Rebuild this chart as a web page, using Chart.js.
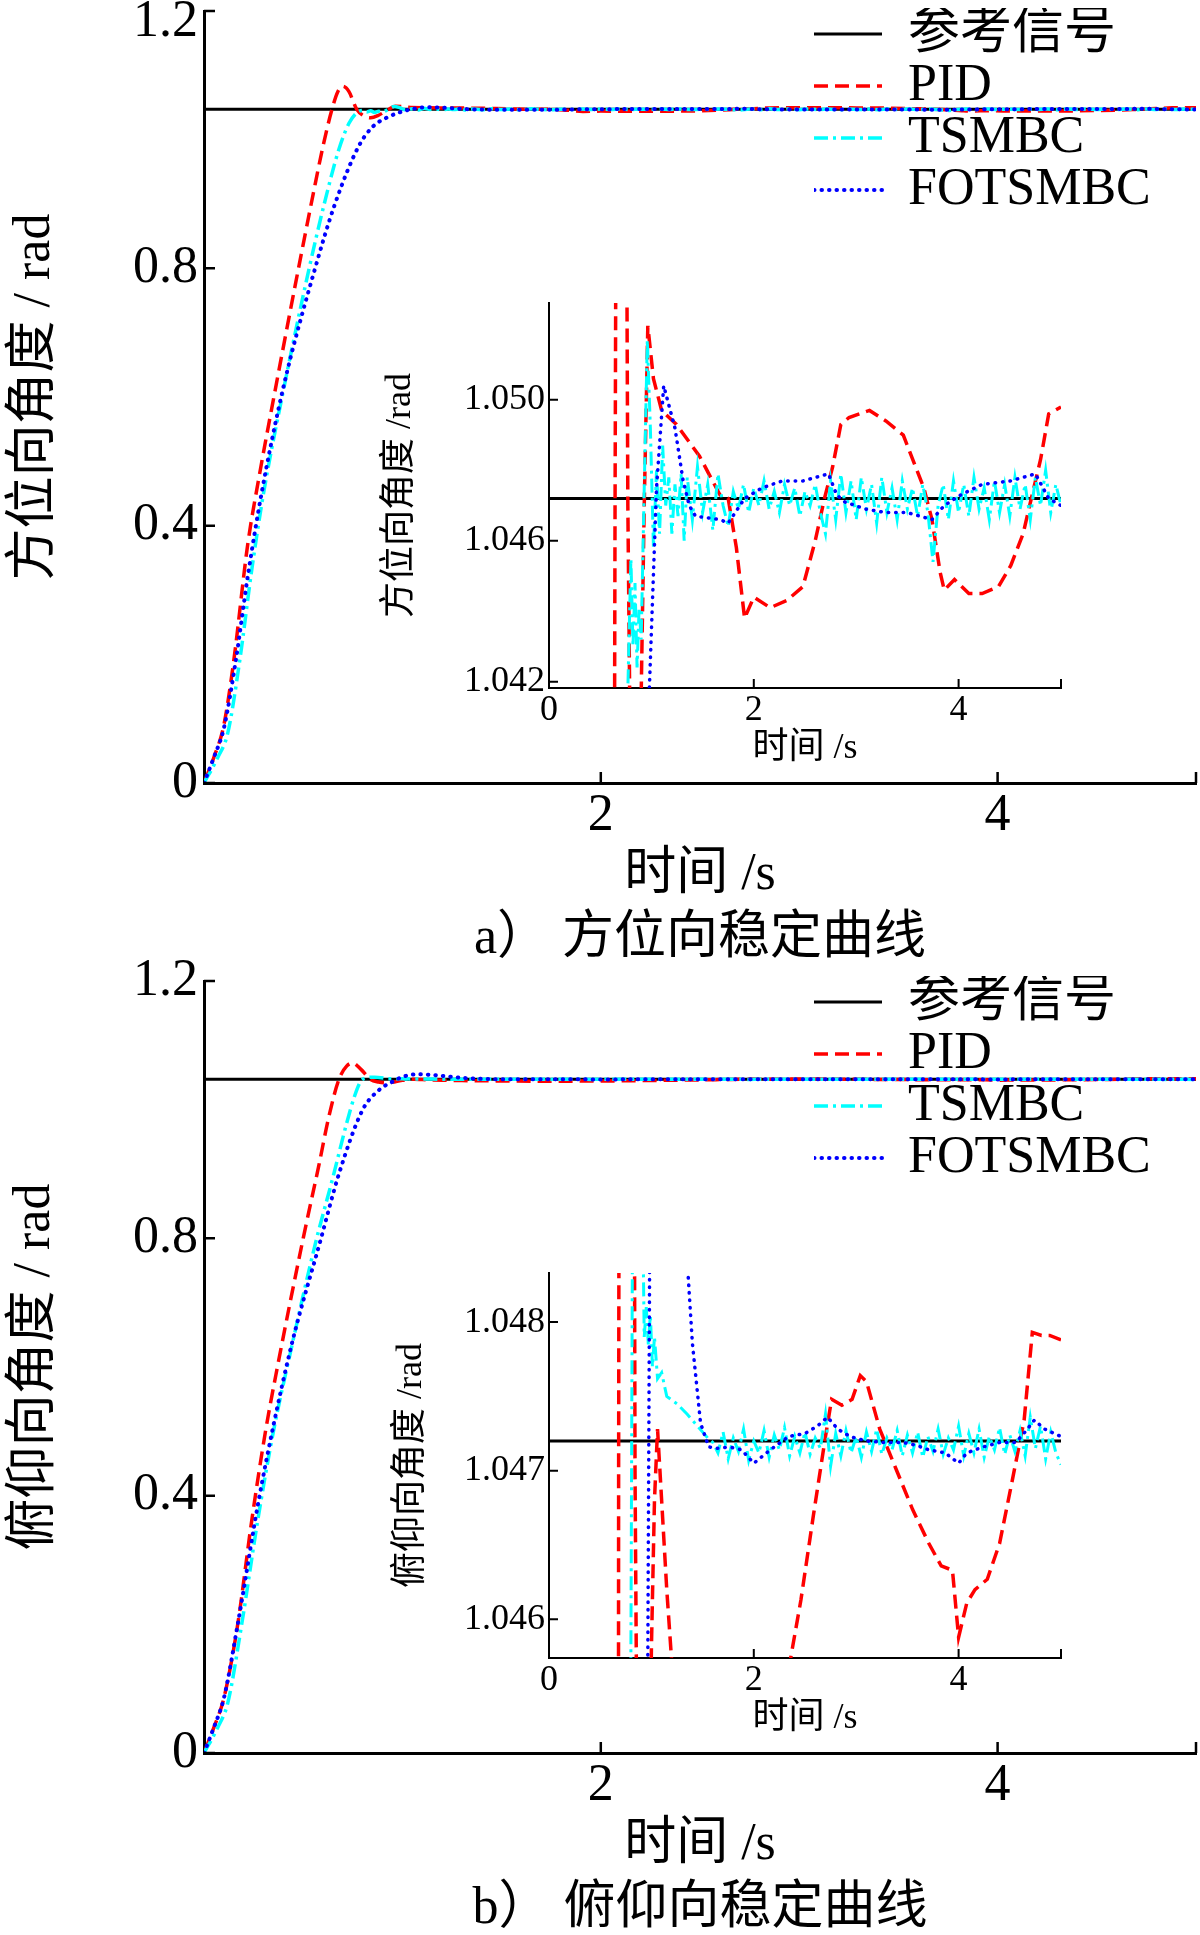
<!DOCTYPE html>
<html>
<head>
<meta charset="utf-8">
<script src="https://cdn.jsdelivr.net/npm/chart.js@4.4.1/dist/chart.umd.min.js"></script>
<style>
  body { margin: 0; background: #fff; }
  #page { position: relative; width: 1200px; height: 1935px; overflow: hidden; }
  canvas { position: absolute; }
</style>
</head>
<body>
<div id="page">
  <canvas id="mainA" width="1200" height="970" style="left:0;top:0"></canvas>
  <canvas id="insetA" width="750" height="520" style="left:330px;top:250px"></canvas>
  <canvas id="mainB" width="1200" height="995" style="left:0;top:940px"></canvas>
  <canvas id="insetB" width="750" height="520" style="left:330px;top:1220px"></canvas>
</div>
<script>
// series names (legend)
const seriesNames = ['参考信号', 'PID', 'TSMBC', 'FOTSMBC'];

// ---- a) azimuth ----
const tRefA = [0, 5];
const yRefA = [1.0472, 1.0472];

const tPidA = [
  0, 0.05, 0.10, 0.15, 0.22, 0.28, 0.34, 0.47, 0.55, 0.60,
  0.645, 0.675, 0.70, 0.73, 0.77, 0.80, 0.84, 0.88, 0.93, 0.965,
  1.02, 1.10, 1.245, 1.47, 1.67, 1.75, 1.83, 1.91, 2.00, 2.16,
  2.32, 2.48, 2.60, 2.69, 2.77, 2.85, 2.93, 3.13, 3.29, 3.46,
  3.58, 3.66, 3.74, 3.82, 3.86, 3.96, 4.10, 4.23, 4.39, 4.51,
  4.63, 4.71, 4.80, 4.88, 5.00
];
const yPidA = [
  0, 0.04, 0.09, 0.19, 0.37, 0.48, 0.58, 0.79, 0.915, 0.99,
  1.047, 1.075, 1.083, 1.075, 1.047, 1.038, 1.034, 1.038, 1.047, 1.0521,
  1.0506, 1.0497, 1.0493, 1.0484, 1.0473, 1.0472, 1.0458, 1.0438, 1.0444, 1.0441,
  1.0443, 1.0447, 1.0460, 1.0472, 1.0481, 1.0493, 1.0495, 1.0497, 1.0494, 1.0490,
  1.0481, 1.0475, 1.0466, 1.0451, 1.0446, 1.0449, 1.0445, 1.0445, 1.0447, 1.0453,
  1.0462, 1.0472, 1.0483, 1.0496, 1.0498
];

const tTsA = [
  0, 0.07, 0.12, 0.18, 0.24, 0.30, 0.40, 0.53, 0.61, 0.68,
  0.73, 0.77, 0.80, 0.82, 0.84, 0.86, 0.88, 0.90, 0.93, 0.96,
  0.99, 1.02, 1.05, 1.08, 1.11, 1.14, 1.17, 1.20, 1.23, 1.26,
  1.29, 1.32,
  1.35, 1.40, 1.45, 1.50, 1.55, 1.60, 1.65, 1.70, 1.75, 1.80,
  1.85, 1.90, 1.95, 2.00, 2.05, 2.10, 2.15, 2.20, 2.25, 2.30,
  2.35, 2.40, 2.45, 2.50, 2.55, 2.60, 2.65, 2.70, 2.75, 2.80,
  2.85, 2.90, 2.95, 3.00, 3.05, 3.10, 3.15, 3.20, 3.25, 3.30,
  3.35, 3.40, 3.45, 3.50, 3.55, 3.60, 3.65, 3.70, 3.75, 3.80,
  3.85, 3.90, 3.95, 4.00, 4.05, 4.10, 4.15, 4.20, 4.25, 4.30,
  4.35, 4.40, 4.45, 4.50, 4.55, 4.60, 4.65, 4.70, 4.75, 4.80,
  4.85, 4.90, 4.95, 5.00
];
const yTsA = [
  0, 0.04, 0.078, 0.19, 0.33, 0.45, 0.61, 0.8, 0.905, 0.985,
  1.025, 1.0418, 1.0455, 1.0430, 1.0448, 1.0424, 1.0441, 1.0432, 1.0475, 1.0517,
  1.0492, 1.0458, 1.0480, 1.0462, 1.0487, 1.0470, 1.0478, 1.0462, 1.0476, 1.0467,
  1.0479, 1.0460,
  1.0478, 1.0466, 1.0481, 1.0468, 1.0476, 1.0463, 1.0479, 1.0470, 1.0464, 1.0474,
  1.0469, 1.0476, 1.0468, 1.0475, 1.0470, 1.0477, 1.0469, 1.0474, 1.0468, 1.0476,
  1.0470, 1.0475, 1.0467, 1.0474, 1.0470, 1.0476, 1.0468, 1.0462, 1.0477, 1.0466,
  1.0479, 1.0468, 1.0477, 1.0466, 1.0478, 1.0469, 1.0476, 1.0465, 1.0478, 1.0468,
  1.0475, 1.0466, 1.0477, 1.0469, 1.0475, 1.0467, 1.0476, 1.0468, 1.0454, 1.0470,
  1.0476, 1.0466, 1.0477, 1.0468, 1.0476, 1.0467, 1.0478, 1.0469, 1.0475, 1.0466,
  1.0477, 1.0468, 1.0476, 1.0467, 1.0478, 1.0469, 1.0476, 1.0466, 1.0478, 1.0470,
  1.0480, 1.0468, 1.0476, 1.0470
];

const tFoA = [
  0, 0.05, 0.10, 0.16, 0.22, 0.29, 0.40, 0.56, 0.66, 0.78,
  0.85, 0.92, 0.98, 1.05, 1.12, 1.23, 1.31, 1.37, 1.43, 1.67,
  1.75, 1.91, 2.08, 2.28, 2.48, 2.73, 2.81, 2.89, 3.09, 3.29,
  3.50, 3.74, 3.86, 4.02, 4.23, 4.51, 4.75, 4.88, 5.00
];
const yFoA = [
  0, 0.04, 0.085, 0.19, 0.32, 0.45, 0.615, 0.8, 0.9, 0.99,
  1.02, 1.034, 1.0418, 1.0475, 1.0504, 1.0492, 1.0477, 1.0470, 1.0467, 1.0466,
  1.0465, 1.0472, 1.0475, 1.0477, 1.0477, 1.0479, 1.0473, 1.0471, 1.0469, 1.0468,
  1.0468, 1.0466, 1.0470, 1.0473, 1.0476, 1.0477, 1.0479, 1.0472, 1.0470
];

// ---- b) pitch ----
const tRefB = [0, 5];
const yRefB = [1.0472, 1.0472];

const tPidB = [
  0, 0.05, 0.10, 0.17, 0.24, 0.31, 0.37, 0.50, 0.58, 0.63,
  0.68, 0.72, 0.75, 0.79, 0.84, 0.88, 0.92, 0.96, 1.00, 1.03,
  1.06, 1.10, 1.15, 1.20, 1.30, 1.50, 1.70, 1.90, 2.10, 2.30,
  2.36, 2.46, 2.58, 2.70, 2.76, 2.86, 2.96, 3.04, 3.10, 3.23,
  3.39, 3.55, 3.71, 3.83, 3.94, 4.00, 4.08, 4.16, 4.28, 4.40,
  4.52, 4.64, 4.72, 4.81, 4.89, 5.00
];
const yPidB = [
  0, 0.04, 0.085, 0.2, 0.36, 0.5, 0.6, 0.8, 0.915, 0.99,
  1.047, 1.068, 1.0726, 1.063, 1.047, 1.043, 1.0415, 1.043, 1.0458, 1.0468,
  1.04728, 1.0468, 1.0462, 1.0457, 1.0452, 1.0446, 1.0443, 1.0444, 1.0448, 1.0455,
  1.04574, 1.04613, 1.04669, 1.04723, 1.04748, 1.04744, 1.04748, 1.04764, 1.0476, 1.04728,
  1.04701, 1.04674, 1.04651, 1.04636, 1.04633, 1.04588, 1.04611, 1.0462, 1.04627, 1.04651,
  1.04692, 1.04734, 1.04793, 1.04791, 1.04791, 1.04788
];

const tTsB = [
  0, 0.07, 0.12, 0.19, 0.27, 0.35, 0.43, 0.56, 0.65, 0.72,
  0.76, 0.79, 0.82, 0.86, 0.91, 0.93, 0.95, 0.97, 0.99, 1.01,
  1.03, 1.06, 1.10, 1.15, 1.25, 1.35, 1.45, 1.55, 1.60,
  1.65, 1.70, 1.75, 1.80, 1.85, 1.90, 1.95, 2.00, 2.05, 2.10,
  2.15, 2.20, 2.25, 2.30, 2.35, 2.40, 2.45, 2.50, 2.55, 2.60,
  2.65, 2.70, 2.75, 2.80, 2.85, 2.90, 2.95, 3.00, 3.05, 3.10,
  3.15, 3.20, 3.25, 3.30, 3.35, 3.40, 3.45, 3.50, 3.55, 3.60,
  3.65, 3.70, 3.75, 3.80, 3.85, 3.90, 3.95, 4.00, 4.05, 4.10,
  4.15, 4.20, 4.25, 4.30, 4.35, 4.40, 4.45, 4.50, 4.55, 4.60,
  4.65, 4.70, 4.75, 4.80, 4.85, 4.90, 4.95, 5.00
];
const yTsB = [
  0, 0.04, 0.078, 0.2, 0.36, 0.5, 0.615, 0.79, 0.895, 0.98,
  1.022, 1.044, 1.0495, 1.0505, 1.049, 1.0479, 1.0481, 1.04785, 1.04805, 1.0477,
  1.0479, 1.04762, 1.04766, 1.0475, 1.04745, 1.04738, 1.0473, 1.04722, 1.04719,
  1.04712, 1.04726, 1.04708, 1.04722, 1.04713, 1.04728, 1.04707, 1.04720, 1.04712, 1.04727,
  1.04709, 1.04724, 1.04714, 1.04729, 1.04710, 1.04723, 1.04712, 1.04726, 1.04711, 1.04722,
  1.04715, 1.04738, 1.04703, 1.04725, 1.04710, 1.04727, 1.04712, 1.04723, 1.04709, 1.04726,
  1.04713, 1.04728, 1.04711, 1.04722, 1.04714, 1.04727, 1.04710, 1.04724, 1.04712, 1.04726,
  1.04709, 1.04723, 1.04713, 1.04728, 1.04711, 1.04722, 1.04714, 1.04730, 1.04710, 1.04725,
  1.04712, 1.04728, 1.04709, 1.04723, 1.04714, 1.04729, 1.04711, 1.04724, 1.04713, 1.04727,
  1.04710, 1.04736, 1.04715, 1.04730, 1.04708, 1.04726, 1.04712, 1.04704
];

const tFoB = [
  0, 0.05, 0.10, 0.17, 0.28, 0.43, 0.59, 0.68, 0.80, 0.88,
  0.96, 1.00, 1.08, 1.15, 1.25, 1.32, 1.36, 1.40, 1.44, 1.48,
  1.56, 1.64, 1.76, 1.88, 2.00, 2.16, 2.34, 2.50, 2.62, 2.72,
  2.82, 2.94, 3.10, 3.27, 3.46, 3.59, 3.71, 3.87, 4.00, 4.08,
  4.24, 4.40, 4.56, 4.66, 4.74, 4.84, 5.00
];
const yFoB = [
  0, 0.04, 0.085, 0.2, 0.4, 0.62, 0.8, 0.9, 1.0, 1.03,
  1.045, 1.051, 1.055, 1.054, 1.051, 1.049, 1.0483, 1.04786, 1.04759, 1.04732,
  1.04716, 1.04715, 1.04716, 1.04714, 1.04705, 1.04714, 1.04723, 1.04725, 1.0473, 1.04736,
  1.04728, 1.04723, 1.0472, 1.04719, 1.04719, 1.04717, 1.04714, 1.04712, 1.04705, 1.04712,
  1.04716, 1.04719, 1.04719, 1.04727, 1.04734, 1.04728, 1.04723
];

// ticks
const mainXTicks = [2, 4];
const mainYTicks = [0, 0.4, 0.8, 1.2];
const mainYLabels = ['0', '0.4', '0.8', '1.2'];
const insetXTicks = [0, 2, 4];
const insetYTicksA = [1.042, 1.046, 1.050];
const insetYLabelsA = ['1.042', '1.046', '1.050'];
const insetYTicksB = [1.046, 1.047, 1.048];
const insetYLabelsB = ['1.046', '1.047', '1.048'];

// texts
const xTitle = '时间 /s';
const captionA = 'a） 方位向稳定曲线';
const captionB = 'b） 俯仰向稳定曲线';
const yTitleA = '方位向角度 / rad';
const yTitleB = '俯仰向角度 / rad';
const insetYTitleA = '方位向角度 /rad';
const insetYTitleB = '俯仰向角度 /rad';

const SERIF = "'Liberation Serif', 'Noto Sans CJK SC', serif";
Chart.defaults.font.family = SERIF;
Chart.defaults.color = '#000';

const styles = [
  { color: '#000000', w: 3, wi: 3, dash: [], cap: 'butt' },
  { color: '#ff0000', w: 3.5, wi: 3.5, dash: [14, 7], cap: 'butt' },
  { color: '#00ffff', w: 3.5, wi: 3, dash: [14, 5, 3, 5], cap: 'butt' },
  { color: '#0000ff', w: 4, wi: 3.5, dash: [0.5, 7], cap: 'round' }
];

// draw inward tick marks like the original plot
const inTicks = {
  id: 'inTicks',
  afterDraw(chart, args, opts) {
    const { ctx, chartArea: a, scales: { x, y } } = chart;
    ctx.save();
    ctx.strokeStyle = '#000';
    ctx.lineWidth = opts.width;
    ctx.setLineDash([]);
    ctx.beginPath();
    x.ticks.map(t => t.value).concat([x.max]).forEach(v => {
      const px = x.getPixelForValue(v);
      ctx.moveTo(px, a.bottom);
      ctx.lineTo(px, a.bottom - opts.len);
    });
    y.ticks.forEach(t => {
      const py = y.getPixelForValue(t.value);
      ctx.moveTo(a.left, py);
      ctx.lineTo(a.left + opts.len, py);
    });
    ctx.stroke();
    ctx.restore();
  }
};

// move the legend to the top right corner inside the plot
const legendSpot = {
  id: 'legendSpot',
  afterLayout(chart, args, opts) {
    const lg = chart.legend;
    if (!lg) return;
    lg.left = opts.left;
    lg.right = opts.left + lg.width;
    lg.top = opts.top;
    lg.bottom = opts.top + lg.height;
  }
};

function makeSets(series, main) {
  return series.map((s, i) => ({
    label: seriesNames[i],
    data: s.t.map((t, k) => ({ x: t, y: s.y[k] })),
    borderColor: styles[i].color,
    backgroundColor: styles[i].color,
    borderWidth: main ? styles[i].w : styles[i].wi,
    borderDash: styles[i].dash,
    borderCapStyle: styles[i].cap,
    pointRadius: 0,
    fill: false,
    order: 4 - i,
    cubicInterpolationMode: main ? 'monotone' : 'default',
    tension: 0
  }));
}

function mainChart(id, series, o) {
  return new Chart(document.getElementById(id), {
    type: 'line',
    data: { datasets: makeSets(series, true) },
    plugins: [inTicks, legendSpot],
    options: {
      responsive: false,
      animation: false,
      devicePixelRatio: 1,
      events: [],
      layout: { padding: { top: o.padTop, right: 4, left: 0, bottom: 0 } },
      scales: {
        x: {
          type: 'linear', min: 0, max: 5,
          afterBuildTicks: s => { s.ticks = mainXTicks.map(v => ({ value: v })); },
          afterFit: s => { s.height = o.xHeight; s.paddingLeft = 0; s.paddingRight = 0; },
          grid: { display: false, drawTicks: false },
          border: { display: true, color: '#000', width: 3 },
          ticks: { autoSkip: false, maxRotation: 0, padding: 2, font: { size: 52 }, callback: v => String(v) },
          title: { display: true, text: xTitle, font: { size: 52, lineHeight: 1.2 }, padding: { top: 0, bottom: o.xTitlePad } }
        },
        y: {
          type: 'linear', min: 0, max: 1.2,
          afterBuildTicks: s => { s.ticks = mainYTicks.map(v => ({ value: v })); },
          afterFit: s => { s.width = 204; s.paddingTop = 0; s.paddingBottom = 0; },
          grid: { display: false, drawTicks: false },
          border: { display: true, color: '#000', width: 3 },
          ticks: {
            autoSkip: false, padding: 6,
            font: c => ({ size: 52, lineHeight: (o.liftTop && c.tick && c.tick.value === 1.2) ? 0.42 : 1.2 }),
            callback: v => {
              const lab = mainYLabels[mainYTicks.indexOf(v)];
              return (o.liftTop && v === 1.2) ? ['', lab] : lab;
            }
          },
          title: { display: true, text: o.yTitle, font: { size: 52, lineHeight: 1.2 }, padding: { top: 4, bottom: 0 } }
        }
      },
      plugins: {
        legend: {
          display: true, position: 'chartArea', align: 'start',
          labels: {
            usePointStyle: true, pointStyle: 'line', pointStyleWidth: 68, padding: 0,
            font: { size: 52 }, color: '#000',
            generateLabels: chart => chart.data.datasets.map((ds, i) => ({
              text: ds.label,
              datasetIndex: i,
              hidden: false,
              fillStyle: ds.borderColor,
              strokeStyle: ds.borderColor,
              lineWidth: ds.borderWidth,
              lineDash: ds.borderDash,
              lineCap: ds.borderCapStyle,
              pointStyle: 'line',
              fontColor: '#000'
            }))
          }
        },
        title: {
          display: true, text: o.caption, position: 'bottom', fullSize: false,
          font: { size: 52, lineHeight: 1.0, weight: 'normal' }, color: '#000',
          padding: { top: 0, bottom: o.capPad }
        },
        tooltip: { enabled: false },
        inTicks: { len: 11, width: 2.5 },
        legendSpot: { left: 814, top: o.legendTop }
      }
    }
  });
}

function insetChart(id, series, o) {
  return new Chart(document.getElementById(id), {
    type: 'line',
    data: { datasets: makeSets(series, false) },
    plugins: [inTicks],
    options: {
      responsive: false,
      animation: false,
      devicePixelRatio: 1,
      events: [],
      layout: { padding: { top: 53, right: 19, left: 0, bottom: 0 } },
      scales: {
        x: {
          type: 'linear', min: 0, max: 5,
          afterBuildTicks: s => { s.ticks = insetXTicks.map(v => ({ value: v })); },
          afterFit: s => { s.height = 82; s.paddingLeft = 0; s.paddingRight = 0; },
          grid: { display: false, drawTicks: false },
          border: { display: true, color: '#000', width: 2 },
          ticks: { autoSkip: false, maxRotation: 0, padding: 1, font: { size: 36 }, callback: v => String(v) },
          title: { display: true, text: xTitle, font: { size: 36, lineHeight: 1.2 }, padding: { top: 0, bottom: 0 } }
        },
        y: {
          type: 'linear', min: o.yMin, max: o.yMax,
          afterBuildTicks: s => { s.ticks = o.yTicks.map(v => ({ value: v })); },
          afterFit: s => { s.width = 219; s.paddingTop = 0; s.paddingBottom = 0; },
          grid: { display: false, drawTicks: false },
          border: { display: true, color: '#000', width: 2 },
          ticks: { autoSkip: false, padding: 4, font: { size: 36 }, callback: v => o.yLabels[o.yTicks.indexOf(v)] },
          title: { display: true, text: o.yTitle, font: { size: 36, lineHeight: 1.2 }, padding: { top: o.yTitlePad, bottom: 0 } }
        }
      },
      plugins: {
        legend: { display: false },
        title: { display: false },
        tooltip: { enabled: false },
        inTicks: { len: 9, width: 2 }
      }
    }
  });
}

const seriesA = [
  { t: tRefA, y: yRefA }, { t: tPidA, y: yPidA }, { t: tTsA, y: yTsA }, { t: tFoA, y: yFoA }
];
const seriesB = [
  { t: tRefB, y: yRefB }, { t: tPidB, y: yPidB }, { t: tTsB, y: yTsB }, { t: tFoB, y: yFoB }
];

mainChart('mainA', seriesA, { yTitle: yTitleA, caption: captionA, padTop: 11, xHeight: 130, xTitlePad: 6, capPad: 5, liftTop: true, legendTop: 8 });
insetChart('insetA', seriesA, { yMin: 1.04182, yMax: 1.05275, yTicks: insetYTicksA, yLabels: insetYLabelsA, yTitle: insetYTitleA, yTitlePad: 49 });
mainChart('mainB', seriesB, { yTitle: yTitleB, caption: captionB, padTop: 41, xHeight: 130, xTitlePad: 6, capPad: 0, liftTop: false, legendTop: 36 });
insetChart('insetB', seriesB, { yMin: 1.04574, yMax: 1.04833, yTicks: insetYTicksB, yLabels: insetYLabelsB, yTitle: insetYTitleB, yTitlePad: 60 });
</script>
</body>
</html>
